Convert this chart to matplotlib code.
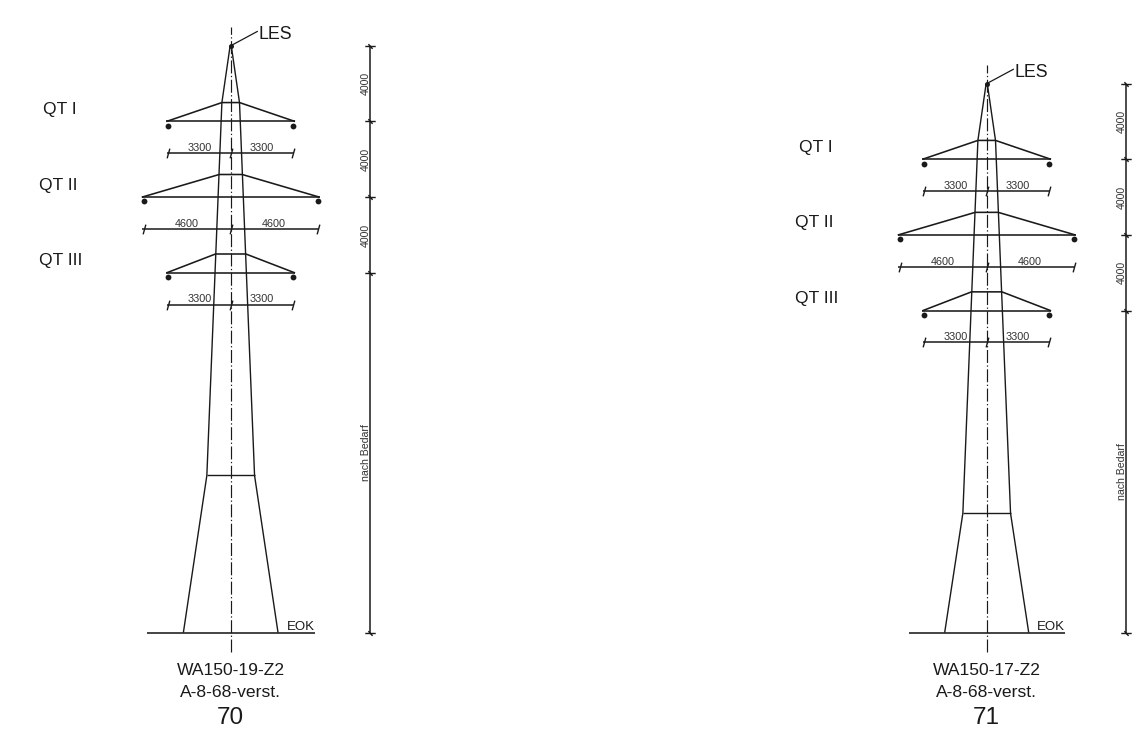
import matplotlib
matplotlib.use("Agg")
import matplotlib.pyplot as plt
from matplotlib.path import Path

plt.rcParams["font.family"] = ["Liberation Sans", "DejaVu Sans"]

# everything below is in mm, height measured from EOK
tower_numbers = ["70", "71"]
tower_types = ["WA150-19-Z2", "WA150-17-Z2"]
tower_class = ["A-8-68-verst.", "A-8-68-verst."]
tower_heights = [31000, 29000]
kink_heights = [8300, 6300]
base_halfwidths = [2500, 2220]
ground_halfwidths = [4430, 4130]

level_names = ["QT I", "QT II", "QT III"]
level_spans = [3300, 4600, 3300]
level_drops = [4000, 8000, 12000]
tie_drops = [3000, 6800, 11000]
tie_halfwidths = [465, 608, 803]
level_dim_texts = ["4000", "4000", "4000"]
kink_halfwidth = 1260
top_halfwidth = 30

# layout
scale = 0.01893  # px per mm
W, H = 1145, 743
ground_px = 632.6
centers = [230.7 / scale, 986.7 / scale]
mm = 1 / scale  # one pixel in mm
label_left = [-187.7, -191.7, -191.7]  # px from tower centre, QT labels

fig = plt.figure(figsize=(W / 100, H / 100), dpi=100)
ax = fig.add_axes([0, 0, 1, 1])
ax.set_xlim(0, W / scale)
ax.set_ylim(-(H - ground_px) / scale, ground_px / scale)
ax.set_axis_off()

lw = 1.0
ink = "#1a1a1a"
# ticks on the dimension lines
slash_h = Path([(-0.28, -1), (0.28, 1)])
slash_v = Path([(-1, 0), (1, 0), (-0.4, 0.45), (0.4, -0.45)],
               [Path.MOVETO, Path.LINETO, Path.MOVETO, Path.LINETO])


def seg(xs, ys, width=lw):
    ax.plot(xs, ys, color=ink, lw=width, solid_capstyle="butt")


for i in range(2):
    cx = centers[i]
    top = tower_heights[i]

    # centre line
    ax.plot([cx, cx], [-19 * mm, top + 19 * mm], color=ink, lw=0.85,
            dashes=(11, 2.2, 1.1, 2.05))

    # shaft
    head = top - tie_drops[0]
    xs = [top_halfwidth, tie_halfwidths[0], kink_halfwidth, base_halfwidths[i]]
    ys = [top, head, kink_heights[i], 0]
    seg([cx - x for x in xs], ys)
    seg([cx + x for x in xs], ys)
    seg([cx - kink_halfwidth, cx + kink_halfwidth], [kink_heights[i]] * 2)

    # ground
    g = ground_halfwidths[i]
    seg([cx - g, cx + g], [0, 0], 1.15)
    ax.text(cx + g, 2.5 * mm, "EOK", fontsize=9.5, ha="right", va="baseline", color=ink)

    # earth wire
    ax.plot([cx], [top], "o", color=ink, ms=3.6, mew=0)
    ax.plot([cx, cx + 26.6 * mm], [top, top + 14.3 * mm], color=ink, lw=0.9)
    ax.text(cx + 27.3 * mm, top + 11.5 * mm, "LES", fontsize=12.8, va="center", color=ink)

    # cross arms
    for name, span, drop, tie, tw, lx in zip(level_names, level_spans, level_drops,
                                             tie_drops, tie_halfwidths, label_left):
        y = top - drop
        yt = top - tie
        tip = span + 100
        seg([cx - tip, cx + tip], [y, y], 1.15)
        seg([cx - tip, cx - tw, cx + tw, cx + tip], [y, yt, yt, y], 1.15)
        ax.plot([cx - span, cx + span], [y - 225] * 2, "o", color=ink,
                ms=4.2, mew=0, ls="none")
        ax.text(cx + lx * mm, y + 640, name, fontsize=12.6,
                ha="left", va="center", color=ink)

        # horizontal dimension
        yd = y - 1675
        seg([cx - span - 60, cx + span + 60], [yd, yd], 1.1)
        ax.plot([cx - span, cx, cx + span], [yd] * 3, ls="none", marker=slash_h,
                ms=7, mfc="none", mec=ink, mew=1.0)
        for sgn in (-1, 1):
            ax.text(cx + sgn * span / 2, yd + 2.2 * mm, str(span), fontsize=7.8,
                    ha="center", va="baseline", color="#333333")

    # vertical dimension
    xd = cx + 139.3 * mm
    ticks = [top] + [top - d for d in level_drops] + [0]
    seg([xd, xd], [ticks[0], ticks[-1]], 1.1)
    ax.plot([xd] * len(ticks), ticks, ls="none", marker=slash_v, ms=7.5,
            mfc="none", mec=ink, mew=1.0)
    for j, label in enumerate(level_dim_texts):
        ax.text(xd - 4 * mm, (ticks[j] + ticks[j + 1]) / 2, label, fontsize=7.6,
                rotation=90, ha="center", va="center", color="#333333")
    ax.text(xd - 4 * mm, (ticks[3] + ticks[4]) / 2, "nach Bedarf", fontsize=7.6,
            rotation=90, ha="center", va="center", color="#333333")

    # captions
    ax.text(cx, -37.8 * mm, tower_types[i], fontsize=12.6, ha="center", va="center", color=ink)
    ax.text(cx, -60.3 * mm, tower_class[i], fontsize=12.6, ha="center", va="center", color=ink)
    ax.text(cx, -85.5 * mm, tower_numbers[i], fontsize=17.5, ha="center", va="center", color=ink)

fig.savefig("out.png", dpi=100)
